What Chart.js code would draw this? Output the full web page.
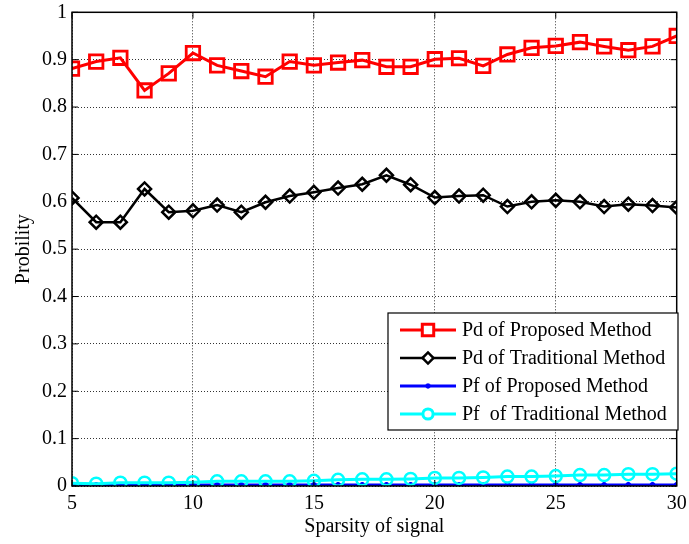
<!DOCTYPE html>
<html>
<head>
<meta charset="utf-8">
<script src="https://cdn.jsdelivr.net/npm/chart.js@4/dist/chart.umd.min.js"></script>
<style>
  html, body { margin: 0; padding: 0; background: #fff; }
  #wrap { width: 689px; height: 544px; }
</style>
</head>
<body>
<div id="wrap"><canvas id="chart" width="689" height="544"></canvas></div>
<script>
const sparsity = [5, 6, 7, 8, 9, 10, 11, 12, 13, 14, 15, 16, 17, 18, 19, 20, 21, 22, 23, 24, 25, 26, 27, 28, 29, 30]
const pdProposed = [0.881, 0.896, 0.904, 0.835, 0.871, 0.914, 0.888, 0.876, 0.864, 0.896, 0.888, 0.894, 0.899, 0.885, 0.885, 0.901, 0.903, 0.887, 0.911, 0.925, 0.929, 0.937, 0.928, 0.920, 0.928, 0.950]
const pdTraditional = [0.608, 0.557, 0.557, 0.627, 0.578, 0.581, 0.593, 0.578, 0.599, 0.612, 0.620, 0.629, 0.637, 0.656, 0.636, 0.609, 0.612, 0.614, 0.590, 0.600, 0.603, 0.600, 0.590, 0.595, 0.592, 0.588]
const pfProposed = [0.002, 0.002, 0.002, 0.002, 0.002, 0.002, 0.002, 0.002, 0.002, 0.002, 0.002, 0.002, 0.002, 0.002, 0.002, 0.002, 0.002, 0.002, 0.002, 0.002, 0.002, 0.002, 0.002, 0.002, 0.002, 0.002]
const pfTraditional = [0.006, 0.005, 0.007, 0.007, 0.007, 0.008, 0.010, 0.010, 0.010, 0.010, 0.011, 0.013, 0.014, 0.014, 0.015, 0.017, 0.017, 0.018, 0.020, 0.020, 0.021, 0.023, 0.023, 0.025, 0.025, 0.026]
const xTicks = [5, 10, 15, 20, 25, 30]
const yTicks = [0, 0.1, 0.2, 0.3, 0.4, 0.5, 0.6, 0.7, 0.8, 0.9, 1]
const seriesNames = ['Pd of Proposed Method', 'Pd of Traditional Method', 'Pf of Proposed Method', 'Pf  of Traditional Method']

const FONT = '"Liberation Serif", "Times New Roman", serif'

function points(values) {
  return values.map((v, i) => ({ x: sparsity[i], y: v }))
}

// box, inward ticks and legend drawn the matlab way
const matlabFrame = {
  id: 'matlabFrame',
  afterDatasetsDraw(chart) {
    const ctx = chart.ctx
    const a = chart.chartArea
    const xs = chart.scales.x
    const ys = chart.scales.y
    ctx.save()
    ctx.strokeStyle = '#000'
    ctx.lineWidth = 1.5
    ctx.strokeRect(a.left, a.top, a.right - a.left, a.bottom - a.top)
    ctx.lineWidth = 1
    ctx.beginPath()
    xTicks.forEach(t => {
      const px = xs.getPixelForValue(t)
      ctx.moveTo(px, a.bottom); ctx.lineTo(px, a.bottom - 6)
      ctx.moveTo(px, a.top); ctx.lineTo(px, a.top + 6)
    })
    yTicks.forEach(t => {
      const py = ys.getPixelForValue(t)
      ctx.moveTo(a.left, py); ctx.lineTo(a.left + 6, py)
      ctx.moveTo(a.right, py); ctx.lineTo(a.right - 6, py)
    })
    ctx.stroke()

    // legend
    const lx = 388, ly = 313, lw = 290, lh = 117
    ctx.fillStyle = '#fff'
    ctx.fillRect(lx, ly, lw, lh)
    ctx.lineWidth = 1.2
    ctx.strokeRect(lx, ly, lw, lh)
    ctx.font = '20px ' + FONT
    ctx.textBaseline = 'middle'
    chart.data.datasets.forEach((ds, i) => {
      const cy = ly + 17 + i * 28
      ctx.strokeStyle = ds.borderColor
      ctx.lineWidth = ds.borderWidth
      ctx.beginPath()
      ctx.moveTo(lx + 12, cy); ctx.lineTo(lx + 68, cy)
      ctx.stroke()
      ctx.fillStyle = '#fff'
      Chart.helpers.drawPoint(ctx, {
        pointStyle: ds.pointStyle,
        radius: ds.pointRadius * 0.85,
        borderWidth: ds.pointBorderWidth
      }, lx + 40, cy)
      ctx.fillStyle = '#000'
      ctx.fillText(seriesNames[i], lx + 74, cy + 1)
    })
    ctx.restore()
  }
}

new Chart(document.getElementById('chart').getContext('2d'), {
  type: 'line',
  data: {
    datasets: [{
      label: seriesNames[0],
      data: points(pdProposed),
      borderColor: '#ff0000',
      backgroundColor: 'rgba(0,0,0,0)',
      borderWidth: 3,
      pointStyle: 'rect',
      pointRadius: 9.5,
      pointBorderWidth: 2.8,
      order: 4
    }, {
      label: seriesNames[1],
      data: points(pdTraditional),
      borderColor: '#000000',
      backgroundColor: 'rgba(0,0,0,0)',
      borderWidth: 2.5,
      pointStyle: 'rectRot',
      pointRadius: 6.5,
      pointBorderWidth: 2.5,
      order: 3
    }, {
      label: seriesNames[2],
      data: points(pfProposed),
      borderColor: '#0000ff',
      backgroundColor: 'rgba(0,0,0,0)',
      borderWidth: 3,
      pointStyle: 'star',
      pointRadius: 3,
      pointBorderWidth: 2,
      order: 2
    }, {
      label: seriesNames[3],
      data: points(pfTraditional),
      borderColor: '#00ffff',
      backgroundColor: 'rgba(0,0,0,0)',
      borderWidth: 3,
      pointStyle: 'circle',
      pointRadius: 6,
      pointBorderWidth: 2.5,
      order: 1
    }]
  },
  options: {
    responsive: false,
    animation: false,
    layout: { padding: { top: 11, right: 10, left: 0, bottom: 0 } },
    plugins: {
      legend: { display: false },
      tooltip: { enabled: false }
    },
    scales: {
      x: {
        type: 'linear',
        min: 5,
        max: 30,
        afterFit(scale) {
          scale.height = 58
          scale.paddingLeft = 0
          scale.paddingRight = 0
        },
        afterBuildTicks(scale) { scale.ticks = xTicks.map(v => ({ value: v })) },
        ticks: { color: '#000', font: { family: FONT, size: 20 }, padding: 6, maxRotation: 0 },
        grid: { color: '#333', lineWidth: 1, drawTicks: false, tickLength: 0 },
        border: { display: false, dash: [1, 2] },
        title: {
          display: true,
          text: 'Sparsity of signal',
          color: '#000',
          font: { family: FONT, size: 20 },
          padding: { top: 0, bottom: 5 }
        }
      },
      y: {
        min: 0,
        max: 1,
        afterFit(scale) {
          scale.width = 72
          scale.paddingTop = 0
          scale.paddingBottom = 0
        },
        afterBuildTicks(scale) { scale.ticks = yTicks.map(v => ({ value: v })) },
        ticks: {
          color: '#000',
          font: { family: FONT, size: 20 },
          padding: 5,
          callback: v => String(Math.round(v * 10) / 10)
        },
        grid: { color: '#333', lineWidth: 1, drawTicks: false, tickLength: 0 },
        border: { display: false, dash: [1, 2] },
        title: {
          display: true,
          text: 'Probility',
          color: '#000',
          font: { family: FONT, size: 20 },
          padding: { top: 12, bottom: 0 }
        }
      }
    }
  },
  plugins: [matlabFrame]
})
</script>
</body>
</html>
